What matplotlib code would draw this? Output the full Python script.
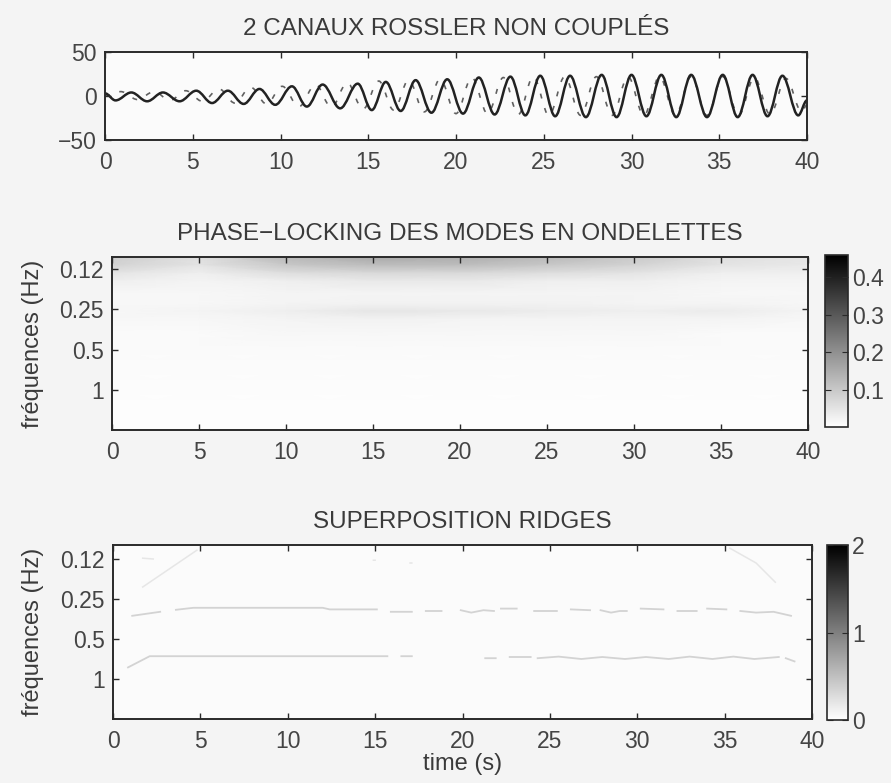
import numpy as np
import matplotlib.pyplot as plt
from matplotlib import cm
from matplotlib.colors import Normalize
from matplotlib.path import Path
from matplotlib.patches import PathPatch

plt.rcParams['font.family'] = ['Liberation Sans', 'DejaVu Sans']
plt.rcParams['font.size'] = 16.5
plt.rcParams['text.color'] = '#3a3a3a'
plt.rcParams['axes.edgecolor'] = '#2a2a2a'
plt.rcParams['axes.labelcolor'] = '#3a3a3a'
plt.rcParams['xtick.color'] = '#2a2a2a'
plt.rcParams['ytick.color'] = '#2a2a2a'
plt.rcParams['xtick.labelcolor'] = '#444444'
plt.rcParams['ytick.labelcolor'] = '#444444'

# --- channel 1 (solid): extrema
t1 = [0, 0.6, 1.5, 2.4, 3.3, 4.25, 5.2, 6.1, 7.0, 7.9, 8.8, 9.7, 10.65, 11.5,
      12.4, 13.4, 14.4, 15.2, 16.0, 16.85, 17.7, 18.6, 19.5, 20.4, 21.3, 22.2,
      23.1, 23.95, 24.8, 25.65, 26.5, 27.4, 28.3, 29.15, 30.0, 30.85, 31.7,
      32.55, 33.4, 34.3, 35.2, 36.05, 36.9, 37.75, 38.6, 39.5, 40]
x1 = [3, -5, 4, -6, 4, -6, 6, -8, 6, -9, 8, -10, 11, -12,
      13, -14, 14, -16, 16, -17, 18, -19, 19, -20, 21, -21,
      22, -22, 23, -23, 23, -24, 24, -24, 24, -23, 24,
      -24, 24, -24, 24, -24, 24, -23, 23, -22, -5]

# --- channel 2 (dashed)
t2 = [0, 0.9, 1.85, 2.8, 3.7, 4.6, 5.55, 6.5, 7.4, 8.3, 9.2, 10.1, 11.05, 12.0,
      12.9, 13.8, 14.7, 15.6, 16.45, 17.3, 18.2, 19.1, 20.0, 20.9, 21.8, 22.7,
      23.55, 24.4, 25.3, 26.2, 27.1, 28.0, 28.9, 29.8, 30.7, 31.6, 32.5, 33.4,
      34.3, 35.2, 36.1, 37.0, 37.9, 38.8, 39.7, 40]
x2 = [0, 5, -4, 5, -5, 6, -6, 8, -8, 10, -9, 11, -12, 13,
      -13, 15, -15, 17, -16, 18, -18, 19, -20, 21, -20, 21,
      -21, 22, -22, 22, -22, 22, -22, 22, -22, 22, -22, 22,
      -22, 22, -22, 21, -21, 20, -18, -10]

# --- phase-locking map (log2 of frequency rows, time columns)
pl_time = [0, 5, 10, 15, 20, 25, 30, 35, 40]
pl_logf = [-3.35, -3.1, -2.9, -2.7, -2.4, -2.15, -1.95, -1.75, -1.4, -1.0, -0.5, 0.0, 0.5, 1.0]
pl_vals = [
    [0.09, 0.06, 0.13, 0.16, 0.15, 0.13, 0.10, 0.06, 0.05],
    [0.08, 0.05, 0.10, 0.12, 0.12, 0.10, 0.08, 0.05, 0.04],
    [0.05, 0.03, 0.06, 0.07, 0.07, 0.06, 0.05, 0.03, 0.03],
    [0.03, 0.02, 0.03, 0.04, 0.04, 0.03, 0.03, 0.02, 0.02],
    [0.015, 0.015, 0.02, 0.02, 0.02, 0.02, 0.02, 0.015, 0.015],
    [0.015, 0.015, 0.02, 0.025, 0.025, 0.025, 0.02, 0.02, 0.015],
    [0.015, 0.02, 0.03, 0.045, 0.04, 0.035, 0.03, 0.035, 0.02],
    [0.015, 0.015, 0.02, 0.025, 0.02, 0.02, 0.02, 0.02, 0.015],
    [0.01, 0.01, 0.015, 0.015, 0.015, 0.015, 0.015, 0.01, 0.01],
    [0.01, 0.01, 0.01, 0.01, 0.01, 0.01, 0.01, 0.01, 0.01],
    [0.008, 0.008, 0.008, 0.008, 0.008, 0.008, 0.008, 0.008, 0.008],
    [0.006, 0.006, 0.006, 0.006, 0.006, 0.006, 0.006, 0.006, 0.006],
    [0.005, 0.005, 0.005, 0.005, 0.005, 0.005, 0.005, 0.005, 0.005],
    [0.005, 0.005, 0.005, 0.005, 0.005, 0.005, 0.005, 0.005, 0.005],
]

# --- ridges (time, log2 frequency); nan = break
ridgeA_t = [1.1, 2.7, np.nan, 3.6, 4.6, 12.0, 12.4, 15.1, np.nan,
            15.9, 17.1, np.nan, 17.9, 18.8, np.nan, 19.9, 20.5, 21.2, 21.8, np.nan,
            22.2, 23.1, np.nan, 24.1, 25.4, np.nan, 26.2, 27.3, np.nan,
            27.9, 28.5, 29.0, 29.4, np.nan, 30.2, 31.5, np.nan, 32.3, 33.4, np.nan,
            34.0, 35.1, np.nan, 35.9, 36.8, 37.8, 38.8]
ridgeA_f = [-1.58, -1.68, np.nan, -1.73, -1.78, -1.78, -1.74, -1.74, np.nan,
            -1.68, -1.68, np.nan, -1.70, -1.70, np.nan, -1.72, -1.66, -1.72, -1.70, np.nan,
            -1.76, -1.76, np.nan, -1.70, -1.70, np.nan, -1.74, -1.72, np.nan,
            -1.72, -1.66, -1.70, -1.70, np.nan, -1.76, -1.74, np.nan, -1.70, -1.70, np.nan,
            -1.76, -1.74, np.nan, -1.70, -1.66, -1.68, -1.58]
ridgeB_t = [0.86, 2.1, 15.7, np.nan, 16.5, 17.1, np.nan, 21.3, 21.9, np.nan,
            22.7, 23.9, np.nan, 24.3, 25.5, 26.8, 28.0, 29.3, 30.5, 31.8, 33.0,
            34.3, 35.5, 36.7, 38.1, np.nan, 38.5, 39.0]
ridgeB_f = [-0.29, -0.57, -0.57, np.nan, -0.57, -0.57, np.nan, -0.52, -0.52, np.nan,
            -0.55, -0.55, np.nan, -0.52, -0.56, -0.50, -0.55, -0.50, -0.55, -0.50, -0.56,
            -0.50, -0.56, -0.50, -0.55, np.nan, -0.52, -0.44]
ridgeC_t = [1.7, 4.8, np.nan, 1.7, 2.3, np.nan, 35.3, 36.8, 37.9, np.nan, 14.9, 15.0, np.nan, 17.0, 17.1]
ridgeC_f = [-2.3, -3.22, np.nan, -3.02, -3.0, np.nan, -3.27, -2.9, -2.42, np.nan, -2.97, -2.97, np.nan, -2.9, -2.9]
ridge_level = 0.35

freq_ticks = [-3, -2, -1, 0]
freq_labels = ['0.12', '0.25', '0.5', '1']
time_ticks = [0, 5, 10, 15, 20, 25, 30, 35, 40]

W, H = 891, 783
fig = plt.figure(figsize=(W / 100, H / 100), dpi=100, facecolor='#f4f4f4')


def box(l, t, r, b):
    return [l / W, 1 - b / H, (r - l) / W, (b - t) / H]


def matlab_ticks(ax):
    ax.tick_params(direction='in', top=True, right=True, length=4, width=1)
    ax.tick_params(axis='x', pad=8)
    ax.tick_params(axis='y', pad=6)
    for s in ax.spines.values():
        s.set_linewidth(1.4)


def smooth_path(ts, xs):
    # cubic segments between successive extrema (flat tangents at each extremum)
    verts = [(ts[0], xs[0])]
    codes = [Path.MOVETO]
    for i in range(1, len(ts)):
        d = ts[i] - ts[i - 1]
        verts += [(ts[i - 1] + 0.36 * d, xs[i - 1]), (ts[i] - 0.36 * d, xs[i]), (ts[i], xs[i])]
        codes += [Path.CURVE4] * 3
    return Path(verts, codes)


cmap = plt.get_cmap('gray_r')
title_fs = 17.5
label_fs = 17

# top panel
ax1 = fig.add_axes(box(105, 52, 807, 140))
ax1.set_facecolor('#fbfbfb')
ax1.add_patch(PathPatch(smooth_path(t2, x2), fill=False, ec='#606060', lw=1.2, ls=(0, (3, 6))))
ax1.add_patch(PathPatch(smooth_path(t1, x1), fill=False, ec='#222222', lw=1.8))
ax1.set_xlim(0, 40)
ax1.set_ylim(-50, 50)
ax1.set_xticks(time_ticks)
ax1.set_yticks([-50, 0, 50])
ax1.set_yticklabels(['\u221250', '0', '50'])
matlab_ticks(ax1)
ax1.set_title('2 CANAUX ROSSLER NON COUPLÉS', pad=12, fontsize=title_fs)

# middle panel
ax2 = fig.add_axes(box(112, 257, 808, 430))
T, F = np.meshgrid(pl_time, pl_logf)
norm2 = Normalize(0, 0.46)
ax2.pcolormesh(T, F, np.array(pl_vals), cmap=cmap, norm=norm2, shading='gouraud')
ax2.set_xlim(0, 40)
ax2.set_ylim(1.0, -3.3)
ax2.set_xticks(time_ticks)
ax2.set_yticks(freq_ticks)
ax2.set_yticklabels(freq_labels)
ax2.set_ylabel('fréquences (Hz)', fontsize=label_fs)
ax2.yaxis.set_label_coords(-0.098, 0.5)
matlab_ticks(ax2)
ax2.set_title('PHASE\u2212LOCKING DES MODES EN ONDELETTES', pad=12, fontsize=title_fs)
cax2 = fig.add_axes(box(825, 255, 848, 427))
cb2 = fig.colorbar(cm.ScalarMappable(norm=norm2, cmap=cmap), cax=cax2, ticks=[0.1, 0.2, 0.3, 0.4])
cb2.ax.tick_params(direction='in', length=4, pad=3, left=True)
cb2.outline.set_linewidth(1.2)

# bottom panel
ax3 = fig.add_axes(box(113, 545, 812, 719))
ax3.set_facecolor('#fbfbfb')
norm3 = Normalize(0, 2)
rc = cmap(norm3(ridge_level))
ax3.plot(ridgeA_t, ridgeA_f, color=rc, lw=1.3)
ax3.plot(ridgeB_t, ridgeB_f, color=rc, lw=1.3)
ax3.plot(ridgeC_t, ridgeC_f, color=cmap(norm3(0.2)), lw=1.1)
ax3.set_xlim(0, 40)
ax3.set_ylim(1.0, -3.35)
ax3.set_xticks(time_ticks)
ax3.set_yticks(freq_ticks)
ax3.set_yticklabels(freq_labels)
ax3.set_ylabel('fréquences (Hz)', fontsize=label_fs)
ax3.yaxis.set_label_coords(-0.098, 0.5)
ax3.set_xlabel('time (s)', labelpad=0, fontsize=label_fs)
matlab_ticks(ax3)
ax3.set_title('SUPERPOSITION RIDGES', pad=12, fontsize=title_fs)
cax3 = fig.add_axes(box(827, 545, 848, 720))
cb3 = fig.colorbar(cm.ScalarMappable(norm=norm3, cmap=cmap), cax=cax3, ticks=[0, 1, 2])
cb3.ax.tick_params(direction='in', length=4, pad=3, left=True)
cb3.outline.set_linewidth(1.2)

fig.savefig('out.png', dpi=100, facecolor=fig.get_facecolor())
